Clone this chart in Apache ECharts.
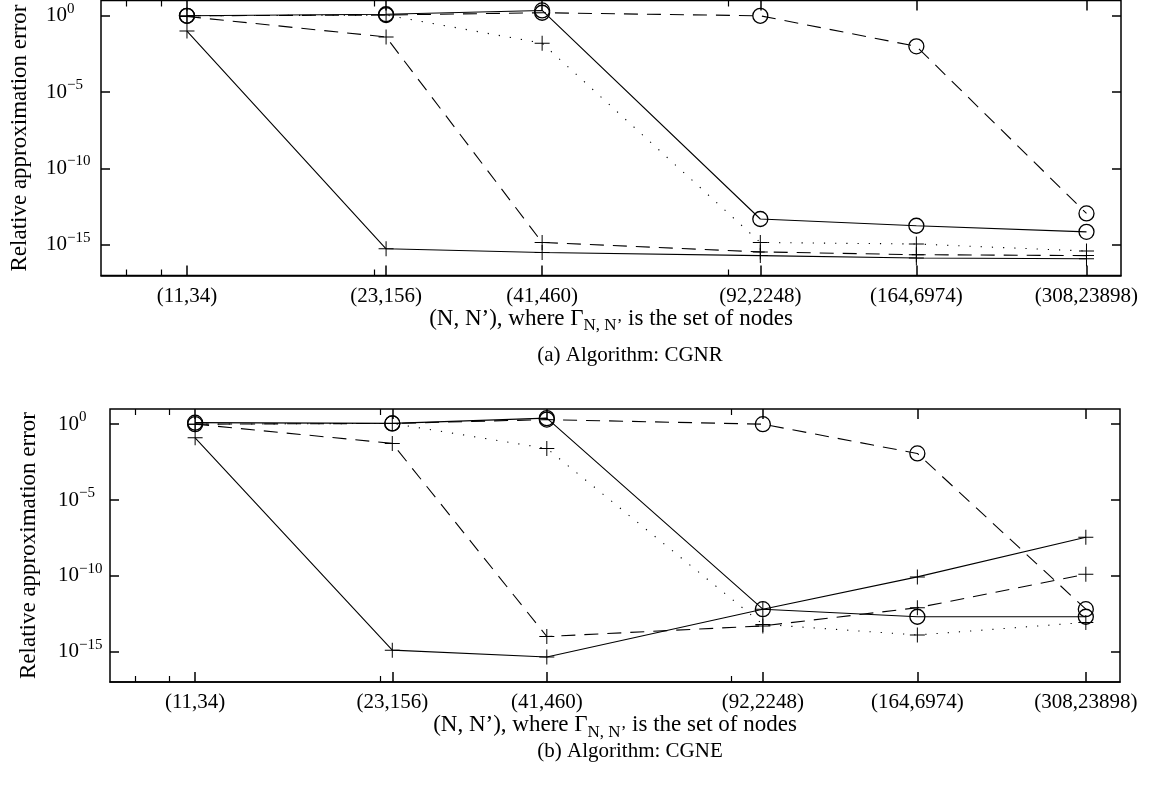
<!DOCTYPE html>
<html>
<head>
<meta charset="utf-8">
<script src="https://cdn.jsdelivr.net/npm/echarts@6/dist/echarts.min.js"></script>
<style>
  html, body { margin: 0; padding: 0; background: #fff; }
  #chart { width: 1156px; height: 791px; }
</style>
</head>
<body>
<div id="chart"></div>
<script>
// x: N of the node set, labelled (N, N')
const nodeN = [11, 23, 41, 92, 164, 308];
const tickLabels = ['(11,34)', '(23,156)', '(41,460)', '(92,2248)', '(164,6974)', '(308,23898)'];
const minorTicksN = [8.8, 10, 22, 81.6];
const yTicks = [1, 1e-5, 1e-10, 1e-15];

// (a) CGNR
const cgnrSolidPlus = [1e-1, 5.6e-16, 3.2e-16, 2.0e-16, 1.4e-16, 1.26e-16];
const cgnrDashedPlus = [0.9, 4.1e-2, 1.45e-15, 3.5e-16, 2.3e-16, 2.0e-16];
const cgnrDottedPlus = [1, 1.12, 1.6e-2, 1.45e-15, 1.15e-15, 4.0e-16];
const cgnrSolidCircle = [1, 1.26, 2.24, 5.0e-14, 1.8e-14, 7.2e-15];
const cgnrDashedCircle = [1, 1.12, 1.58, 1, 1e-2, 1.15e-13];

// (b) CGNE
const cgneSolidPlus = [0.126, 1.26e-15, 4.5e-16, 6.3e-13, 8.5e-11, 3.5e-8];
const cgneDashedPlus = [1, 5.4e-2, 1e-14, 5.0e-14, 7.9e-13, 1.26e-10];
const cgneDottedPlus = [1, 1.12, 2.5e-2, 6.3e-14, 1.26e-14, 8.5e-14];
const cgneSolidCircle = [1.26, 1.12, 2.5, 6.3e-13, 2.0e-13, 2.0e-13];
const cgneDashedCircle = [1, 1.12, 2.0, 1, 1.17e-2, 6.3e-13];

const font = 'Liberation Serif';
const plusSymbol = 'path://M7,0H8V15H7ZM0,7H15V8H0Z';
const dashed = [14, 9];
const dotted = [1.2, 10];

function xAxes(gridIndex, nameGap) {
  const base = {
    gridIndex: gridIndex, type: 'log', logBase: 10, min: 8, max: 350,
    splitLine: { show: false }, axisLine: { show: false },
    axisLabel: { show: false }
  };
  return [
    Object.assign({}, base, {
      position: 'bottom',
      axisLine: { show: true, lineStyle: { color: '#000', width: 1.5 } },
      axisTick: { inside: true, length: 10, customValues: nodeN, lineStyle: { color: '#000', width: 1.5 } },
      axisLabel: {
        show: true, customValues: nodeN, margin: 10, color: '#000', fontFamily: font, fontSize: 21,
        formatter: function (v) {
          const i = nodeN.findIndex(n => Math.abs(n - v) < 0.5);
          return i >= 0 ? tickLabels[i] : '';
        }
      },
      name: '(N, N\u2019), where \u0393{sub|N, N\u2019} is the set of nodes',
      nameLocation: 'middle', nameGap: nameGap,
      nameTextStyle: {
        color: '#000', fontFamily: font, fontSize: 23,
        rich: { sub: { fontFamily: font, fontSize: 17, color: '#000', padding: [14, 0, 0, 0] } }
      }
    }),
    Object.assign({}, base, {
      position: 'bottom',
      axisTick: { inside: true, length: 6, customValues: minorTicksN, lineStyle: { color: '#000', width: 1.2 } }
    }),
    Object.assign({}, base, {
      position: 'top',
      axisTick: { inside: true, length: 10, customValues: nodeN, lineStyle: { color: '#000', width: 1.5 } }
    }),
    Object.assign({}, base, {
      position: 'top',
      axisTick: { inside: true, length: 6, customValues: minorTicksN, lineStyle: { color: '#000', width: 1.2 } }
    })
  ];
}

function yAxes(gridIndex, labelMargin) {
  const base = {
    gridIndex: gridIndex, type: 'log', logBase: 10, min: 1e-17, max: 10,
    splitLine: { show: false }, axisLine: { show: false }
  };
  return [
    Object.assign({}, base, {
      position: 'left',
      axisTick: { inside: true, length: 9, customValues: yTicks, lineStyle: { color: '#000', width: 1.5 } },
      axisLabel: {
        customValues: yTicks, align: 'left', margin: labelMargin, color: '#000',
        formatter: function (v) {
          const e = Math.round(Math.log10(v));
          return '{b|10}{s|' + (e < 0 ? '\u2212' + (-e) : e) + '}';
        },
        rich: {
          b: { fontFamily: font, fontSize: 21, color: '#000' },
          s: { fontFamily: font, fontSize: 15, color: '#000', padding: [0, 0, 14, 0] }
        }
      },
      name: 'Relative approximation error',
      nameLocation: 'middle', nameGap: 70, nameRotate: 90,
      nameTextStyle: { color: '#000', fontFamily: font, fontSize: 23 }
    }),
    Object.assign({}, base, {
      position: 'right',
      axisTick: { inside: true, length: 9, customValues: yTicks, lineStyle: { color: '#000', width: 1.5 } },
      axisLabel: { show: false }
    })
  ];
}

function line(values, gridIndex, lineType, marker) {
  const isPlus = marker === 'plus';
  return {
    type: 'line',
    xAxisIndex: gridIndex * 4,
    yAxisIndex: gridIndex * 2,
    data: nodeN.map((n, i) => [n, values[i]]),
    symbol: isPlus ? plusSymbol : 'circle',
    symbolSize: 15,
    showAllSymbol: true,
    lineStyle: { color: '#000', width: 1.1, type: lineType },
    itemStyle: isPlus
      ? { color: '#000', borderWidth: 0 }
      : { color: 'rgba(0,0,0,0)', borderColor: '#000', borderWidth: 1.3 },
    emphasis: { disabled: true },
    z: 3
  };
}

const chart = echarts.init(document.getElementById('chart'), null, { renderer: 'canvas' });
chart.setOption({
  animation: false,
  backgroundColor: '#fff',
  textStyle: { fontFamily: font },
  title: [
    { text: '(a) Algorithm: CGNR', left: 625, top: 340, textAlign: 'center',
      textStyle: { fontFamily: font, fontSize: 21, fontWeight: 'normal', color: '#000' } },
    { text: '(b) Algorithm: CGNE', left: 625, top: 736, textAlign: 'center',
      textStyle: { fontFamily: font, fontSize: 21, fontWeight: 'normal', color: '#000' } }
  ],
  grid: [
    { left: 98, top: 0.5, width: 1023, height: 275, show: true, borderColor: '#000', borderWidth: 1.5, backgroundColor: 'transparent' },
    { left: 110, top: 409, width: 1010, height: 273, show: true, borderColor: '#000', borderWidth: 1.5, backgroundColor: 'transparent' }
  ],
  xAxis: xAxes(0, 25).concat(xAxes(1, 21)),
  yAxis: yAxes(0, 55).concat(yAxes(1, 52)),
  series: [
    line(cgnrSolidPlus, 0, 'solid', 'plus'),
    line(cgnrDashedPlus, 0, dashed, 'plus'),
    line(cgnrDottedPlus, 0, dotted, 'plus'),
    line(cgnrSolidCircle, 0, 'solid', 'circle'),
    line(cgnrDashedCircle, 0, dashed, 'circle'),
    line(cgneSolidPlus, 1, 'solid', 'plus'),
    line(cgneDashedPlus, 1, dashed, 'plus'),
    line(cgneDottedPlus, 1, dotted, 'plus'),
    line(cgneSolidCircle, 1, 'solid', 'circle'),
    line(cgneDashedCircle, 1, dashed, 'circle')
  ]
});
</script>
</body>
</html>
